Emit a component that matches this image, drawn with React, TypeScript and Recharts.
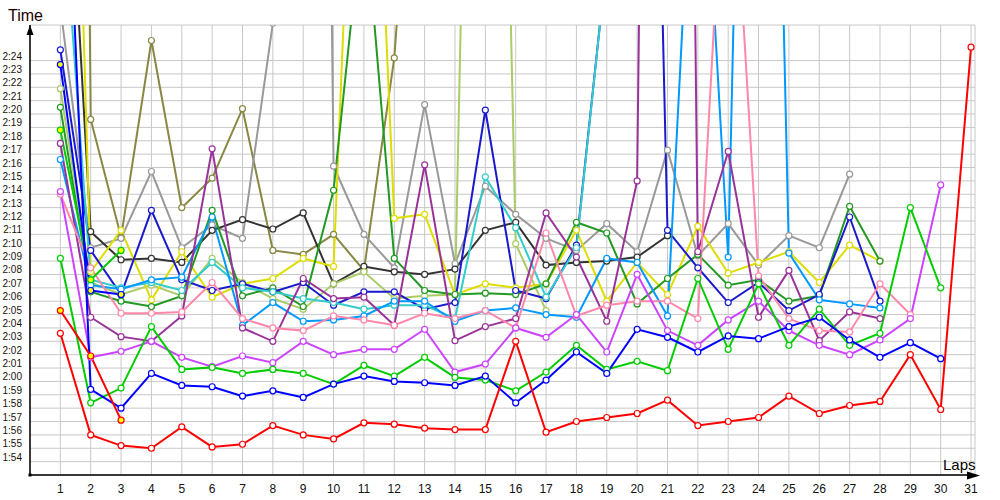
import { LineChart, Line, XAxis, YAxis, CartesianGrid } from 'recharts'

// lap times in seconds (2:04 = 124), one array per driver
const laps = [1, 2, 3, 4, 5, 6, 7, 8, 9, 10, 11, 12, 13, 14, 15, 16, 17, 18, 19, 20, 21, 22, 23, 24, 25, 26, 27, 28, 29, 30, 31]
const yTicks = [114, 115, 116, 117, 118, 119, 120, 121, 122, 123, 124, 125, 126, 127, 128, 129, 130, 131, 132, 133, 134, 135, 136, 137, 138, 139, 140, 141, 142, 143, 144]

const red = [123.6, 116.0, 115.2, 115.0, 116.6, 115.1, 115.3, 116.7, 116.0, 115.7, 116.9, 116.8, 116.5, 116.4, 116.4, 123.0, 116.2, 117.0, 117.3, 117.6, 118.6, 116.7, 117.0, 117.3, 118.9, 117.6, 118.2, 118.5, 122.0, 117.9, 145.0]
const blue = [171, 119.4, 118.0, 120.6, 119.7, 119.6, 118.9, 119.3, 118.8, 119.8, 120.4, 120.0, 119.9, 119.7, 120.4, 118.4, 120.1, 122.2, 120.6, 123.9, 123.3, 122.2, 123.4, 123.2, 124.1, 124.8, 123.1, 121.8, 122.9, 121.7]
const green = [129.2, 118.4, 119.5, 124.1, 120.9, 121.05, 120.6, 120.9, 120.6, 119.8, 121.2, 120.4, 121.8, 120.3, 120.1, 119.3, 120.7, 122.7, 120.9, 121.5, 120.8, 127.7, 122.4, 127.3, 122.7, 125.4, 122.7, 123.6, 133.0, 127.0]
const violet = [134.2, 121.8, 122.25, 123.0, 121.8, 121.1, 121.9, 121.4, 123.0, 122.0, 122.4, 122.4, 123.9, 120.7, 121.3, 124.0, 123.3, 125.0, 122.2, 128.0, 123.8, 122.7, 124.6, 126.0, 123.8, 122.7, 122.0, 123.1, 124.7, 134.7]
const pink = [134.0, 128.5, 125.1, 125.1, 125.2, 127.4, 124.7, 124.0, 123.8, 124.9, 124.6, 124.2, 125.1, 124.7, 125.3, 124.0, 131.1, 124.9, 125.7, 126.0, 126.0, 124.7, 166, 127.9, 124.7, 123.8, 123.7, 127.3, 125.0]
const purple = [137.8, 124.8, 123.35, 123.0, 124.9, 137.4, 124.0, 123.0, 127.7, 126.2, 126.3, 124.2, 136.2, 123.05, 124.1, 124.7, 132.6, 129.3, 124.5, 135.0, 330, 129.7, 137.2, 124.8, 128.3, 123.05, 125.2, 124.7]
const lightBlue = [136.6, 127.2, 126.9, 127.6, 127.8, 132.3, 124.2, 125.9, 124.5, 124.6, 124.9, 126.0, 126.0, 124.5, 125.3, 125.5, 125.0, 124.8, 129.2, 128.9, 124.9, 169, 129.3, 230, 129.6, 126.1, 125.8, 125.5]
const navy = [144.8, 129.8, 126.5, 132.8, 127.6, 126.8, 127.3, 126.7, 127.4, 125.7, 126.7, 126.7, 125.4, 125.9, 140.3, 126.8, 126.2, 130.2, 151.5, 230, 131.3, 128.5, 125.9, 127.4, 125.3, 126.5, 132.3, 126.0]
const darkGreen = [140.5, 126.7, 126.0, 125.6, 126.4, 132.8, 126.4, 127.0, 125.6, 134.3, 156, 129.2, 126.8, 126.5, 126.6, 126.5, 127.3, 131.9, 131.1, 125.8, 127.7, 129.5, 127.2, 127.6, 126.0, 126.4, 133.1, 129.0]
const yellow = [205, 128.2, 131.3, 126.1, 129.7, 126.3, 127.3, 127.7, 129.2, 128.6, 184, 132.2, 132.5, 126.5, 127.3, 127.0, 127.3, 131.3, 126.0, 128.9, 126.5, 131.6, 128.1, 128.9, 129.7, 127.4, 130.2, 129.0]
const gray = [148, 130.0, 130.7, 135.7, 130.0, 131.7, 130.7, 146.8, 330, 136.1, 131.0, 128.5, 140.7, 128.8, 134.6, 132.5, 130.7, 129.8, 131.8, 129.7, 137.3, 129.4, 131.8, 128.7, 130.9, 130.0, 135.5]
const black = [171.5, 131.2, 129.1, 129.2, 128.9, 131.3, 132.1, 131.4, 132.6, 127.3, 128.6, 128.2, 128.0, 128.4, 131.3, 131.9, 128.7, 128.9, 129.0, 129.3, 130.9]
const olive = [375, 139.6, 130.8, 145.5, 133.0, 135.2, 140.4, 129.8, 129.5, 131.0, 128.3, 144.2, 175]
const cyan = [158.6, 127.6, 127.0, 127.4, 126.8, 128.9, 127.0, 126.7, 126.2, 125.9, 125.4, 125.7, 125.7, 124.7, 135.3, 131.5, 126.3, 130.0, 151.5]
const lightGreen = [141.9, 127.4, 126.5, 127.2, 126.4, 129.2, 127.4, 126.2, 125.4, 127.3, 128.2, 126.2, 126.4, 126.5, 234, 130.3, 125.3]
const redOut = [125.3, 121.9, 117.1]
const greenOut = [138.8, 127.6, 129.8]
const blueOut = [143.7, 126.8, 126.5]

const series = [
  { key: 'olive', color: '#888844', fill: '#ffffff', values: olive },
  { key: 'gray', color: '#999999', fill: '#ffffff', values: gray },
  { key: 'black', color: '#333333', fill: '#ffffff', values: black },
  { key: 'lightGreen', color: '#aacc66', fill: '#ffffff', values: lightGreen },
  { key: 'yellow', color: '#dddd00', fill: '#ffffff', values: yellow },
  { key: 'darkGreen', color: '#229922', fill: '#ffffff', values: darkGreen },
  { key: 'navy', color: '#1a1acc', fill: '#ffffff', values: navy },
  { key: 'cyan', color: '#33cccc', fill: '#ffffff', values: cyan },
  { key: 'lightBlue', color: '#0099ff', fill: '#ffffff', values: lightBlue },
  { key: 'purple', color: '#993399', fill: '#ffffff', values: purple },
  { key: 'pink', color: '#ff88aa', fill: '#ffffff', values: pink },
  { key: 'violet', color: '#cc44ff', fill: '#ffffff', values: violet },
  { key: 'greenOut', color: '#00cc00', fill: '#ffff00', values: greenOut },
  { key: 'blueOut', color: '#0000ff', fill: '#ffff00', values: blueOut },
  { key: 'green', color: '#00cc00', fill: '#ffffff', values: green },
  { key: 'blue', color: '#0000ff', fill: '#ffffff', values: blue },
  { key: 'redOut', color: '#ff0000', fill: '#ffff00', values: redOut },
  { key: 'red', color: '#ff0000', fill: '#ffffff', values: red },
]

const data = laps.map((lap, i) => {
  const row: Record<string, number | null> = { lap }
  series.forEach(s => { row[s.key] = i < s.values.length ? s.values[i] : null })
  return row
})

const fmt = (s: number) => {
  const m = Math.floor(s / 60)
  const sec = Math.round(s - m * 60)
  return `${m}:${sec < 10 ? '0' : ''}${sec}`
}

const YTick = ({ x, y, payload }: any) => (
  <text x={x - 8} y={y - 1} textAnchor="end" fontSize={10} fontFamily="Liberation Sans, Arial" fill="#1a1208">
    {fmt(payload.value)}
  </text>
)

const XTick = ({ x, y, payload }: any) => (
  <text x={x} y={y + 18} textAnchor="middle" fontSize={12} fontFamily="Liberation Sans, Arial" fill="#111">
    {payload.value}
  </text>
)

export default function App() {
  return (
    <div style={{ position: 'absolute', left: 0, top: 0, width: 1000, height: 500, background: '#fff' }}>
      <LineChart width={1000} height={500} data={data} margin={{ top: 25, right: 25, bottom: 0, left: 0 }}>
        <CartesianGrid stroke="#c8c8c8" strokeWidth={1} />
        <XAxis
          type="number"
          dataKey="lap"
          domain={[0, 31.13]}
          ticks={laps}
          interval={0}
          allowDataOverflow
          height={25}
          tickSize={0}
          tickMargin={0}
          tickLine={false}
          axisLine={{ stroke: '#000', strokeWidth: 1.5 }}
          tick={<XTick />}
        />
        <YAxis
          type="number"
          domain={[113, 146.66]}
          ticks={yTicks}
          interval={0}
          allowDataOverflow
          width={30}
          tickSize={0}
          tickMargin={0}
          tickLine={false}
          axisLine={{ stroke: '#000', strokeWidth: 1.5 }}
          tick={<YTick />}
        />
        {series.map(s => (
          <Line
            key={s.key}
            dataKey={s.key}
            type="linear"
            stroke={s.color}
            strokeWidth={2}
            dot={{ r: 3, fill: s.fill, stroke: s.color, strokeWidth: 1.2 }}
            activeDot={false}
            connectNulls={false}
            isAnimationActive={false}
          />
        ))}
      </LineChart>
      <svg width={1000} height={500} style={{ position: 'absolute', left: 0, top: 0, pointerEvents: 'none' }}>
        <line x1={975} y1={475} x2={972} y2={475} stroke="#000" strokeWidth={1.5} />
        <polygon points="980,475.5 967,471.5 967,479.5" fill="#000" />
        <polygon points="30,25 26.5,35 33.5,35" fill="#000" />
        <rect x={28.5} y={473.5} width={3} height={3} fill="#000" />
        <text x={8} y={21} fontSize={16} fontFamily="Liberation Sans, Arial" fill="#1a0000">Time</text>
        <text x={943} y={470} fontSize={15} fontFamily="Liberation Sans, Arial" fill="#000">Laps</text>
      </svg>
    </div>
  )
}
